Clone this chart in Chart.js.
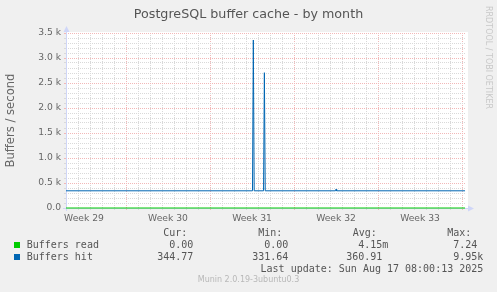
<!DOCTYPE html>
<html>
<head>
<meta charset="utf-8">
<script src="https://cdn.jsdelivr.net/npm/chart.js@4.4.1/dist/chart.umd.min.js"></script>
<style>
html, body { margin: 0; padding: 0; background: #f0f0f0; }
#wrap { position: relative; width: 497px; height: 292px; overflow: hidden; font-family: "DejaVu Sans", sans-serif; color: #666; }
#c { position: absolute; left: 0; top: 0; }
.t { position: absolute; white-space: pre; }
#title { left: 0; width: 497px; top: 5.6px; text-align: center; font-size: 12.7px; line-height: 15px; color: #555; }
#rrd { left: 483px; top: 6px; writing-mode: vertical-rl; font-size: 8px; line-height: 10px; color: #c8c8c8; }
#munin { left: 0; width: 497px; top: 275px; text-align: center; font-size: 8px; line-height: 10px; color: #b8b8b8; }
.m { font-family: "DejaVu Sans Mono", monospace; font-size: 10px; line-height: 12px; color: #555; }
.sq { position: absolute; width: 6px; height: 6px; left: 14px; }
</style>
</head>
<body>
<div id="wrap">
  <canvas id="c" width="497" height="292"></canvas>
  <div id="title" class="t">PostgreSQL buffer cache - by month</div>
  <div id="rrd" class="t">RRDTOOL / TOBI OETIKER</div>
  <div id="legend"></div>
  <div id="munin" class="t">Munin 2.0.19-3ubuntu0.3</div>
</div>
<script>
// x values are days counted from the left edge of the month window
const weekLabels = ['Week 29', 'Week 30', 'Week 31', 'Week 32', 'Week 33'];
const weekStarts = [-2, 5, 12, 19, 26];
const windowDays = 33.33;

const readDays = [0, 33.25];
const readValues = [0, 0];

const hitDays = [0, 15.54, 15.61, 15.68, 16.46, 16.53, 16.6, 22.45, 22.5, 22.55, 33.25];
const hitValues = [344, 344, 3360, 344, 344, 2706, 344, 344, 375, 344, 344];

const statHeaders = ['Cur:', 'Min:', 'Avg:', 'Max:'];
const legendNames = ['Buffers read', 'Buffers hit'];
const curValues = ['0.00', '344.77'];
const minValues = ['0.00', '331.64'];
const avgValues = ['4.15m', '360.91'];
const maxValues = ['7.24', '9.95k'];
const lastUpdate = 'Last update: Sun Aug 17 08:00:13 2025';

const seriesColors = ['#00cc00', '#0066b3'];
const majorGrid = '#f2b8b8';
const minorGrid = '#d9d9d9';

// legend block, munin style
const legend = document.getElementById('legend');
const headerLeft = [163.3, 258.3, 352.7, 447.3];
const colEnd = [199.3, 294.3, 388.3, 483.3];
const addText = (txt, top, opts) => {
    const d = document.createElement('div');
    d.className = 't m';
    d.textContent = txt;
    d.style.top = top + 'px';
    if (opts.left !== undefined) d.style.left = opts.left + 'px';
    if (opts.right !== undefined) d.style.right = (497 - opts.right) + 'px';
    legend.appendChild(d);
};
statHeaders.forEach((h, i) => addText(h, 227, { left: headerLeft[i] }));
legendNames.forEach((name, r) => {
    const top = 239 + r * 12;
    const sq = document.createElement('div');
    sq.className = 'sq';
    sq.style.top = (top + 3) + 'px';
    sq.style.background = seriesColors[r];
    legend.appendChild(sq);
    addText(name, top, { left: 26.7 });
    [curValues, minValues, avgValues, maxValues].forEach((vals, c) => {
        let v = vals[r];
        if (/\d$/.test(v)) v += ' ';
        addText(v, top, { right: colEnd[c] });
    });
});
addText(lastUpdate, 263, { right: 483.3 });

const isMajorDay = d => ((d - 5) % 7 + 7) % 7 === 0;
const xGridColor = c => {
    const v = c.tick.value;
    if (!Number.isInteger(v)) return 'rgba(0,0,0,0)';
    return isMajorDay(v) ? majorGrid : minorGrid;
};
const yGridColor = c => (c.tick.value % 500 === 0 ? majorGrid : minorGrid);

const muninFrame = {
    id: 'muninFrame',
    beforeDraw(chart) {
        const { ctx, chartArea: a } = chart;
        ctx.save();
        ctx.fillStyle = '#f0f0f0';
        ctx.fillRect(0, 0, chart.width, chart.height);
        ctx.fillStyle = '#ffffff';
        ctx.fillRect(a.left, a.top - 1, a.right - a.left + 2, a.bottom - a.top + 1);
        ctx.restore();
    },
    beforeDatasetsDraw(chart) {
        const { ctx, chartArea: a } = chart;
        ctx.save();
        ctx.strokeStyle = '#cfd6f8';
        ctx.fillStyle = '#cfd6f8';
        ctx.lineWidth = 1;
        ctx.beginPath();
        ctx.moveTo(a.left + 0.5, a.bottom + 3);
        ctx.lineTo(a.left + 0.5, a.top - 2);
        ctx.moveTo(a.left - 3, a.bottom + 0.5);
        ctx.lineTo(a.right + 2, a.bottom + 0.5);
        ctx.stroke();
        ctx.beginPath();
        ctx.moveTo(a.left - 2.5, a.top - 1);
        ctx.lineTo(a.left + 3.5, a.top - 1);
        ctx.lineTo(a.left + 0.5, a.top - 7);
        ctx.closePath();
        ctx.fill();
        ctx.beginPath();
        ctx.moveTo(a.right + 2, a.bottom - 2.5);
        ctx.lineTo(a.right + 2, a.bottom + 3.5);
        ctx.lineTo(a.right + 8, a.bottom + 0.5);
        ctx.closePath();
        ctx.fill();
        ctx.restore();
    }
};

Chart.defaults.font.family = '"DejaVu Sans", sans-serif';
Chart.defaults.color = '#666';

new Chart(document.getElementById('c'), {
    type: 'line',
    data: {
        datasets: [
            {
                label: legendNames[0],
                data: readDays.map((d, i) => ({ x: d, y: readValues[i] })),
                borderColor: seriesColors[0],
                borderWidth: 1,
                pointRadius: 0,
                tension: 0,
                clip: false
            },
            {
                label: legendNames[1],
                data: hitDays.map((d, i) => ({ x: d, y: hitValues[i] })),
                borderColor: seriesColors[1],
                borderWidth: 1,
                pointRadius: 0,
                tension: 0,
                clip: false
            }
        ]
    },
    options: {
        responsive: false,
        animation: false,
        layout: { padding: { top: 33, right: 31, bottom: 64, left: 0 } },
        plugins: {
            legend: { display: false },
            tooltip: { enabled: false }
        },
        scales: {
            x: {
                type: 'linear',
                min: 0,
                max: windowDays,
                afterFit(s) { s.height = 20; },
                afterBuildTicks(s) {
                    const vals = [];
                    for (let d = 0; d <= 33; d++) vals.push(d);
                    weekStarts.forEach(w => vals.push(w + 3.5));
                    vals.sort((a, b) => a - b);
                    s.ticks = vals.map(v => ({ value: v }));
                },
                ticks: {
                    autoSkip: false,
                    maxRotation: 0,
                    padding: 3,
                    font: { size: 9.2 },
                    callback(v) {
                        const i = weekStarts.findIndex(w => Math.abs(w + 3.5 - v) < 1e-6);
                        return i >= 0 ? weekLabels[i] : '';
                    }
                },
                grid: { tickLength: 2, color: xGridColor, tickColor: xGridColor },
                border: { display: false, dash: [1, 1] }
            },
            y: {
                min: 0,
                max: 3500,
                afterFit(s) { s.width = 66; },
                ticks: {
                    stepSize: 100,
                    autoSkip: false,
                    padding: 3,
                    font: { size: 9.2 },
                    callback(v) {
                        if (v % 500 !== 0) return '';
                        return v === 0 ? '0.0' : (v / 1000).toFixed(1) + ' k';
                    }
                },
                grid: { tickLength: 2, color: yGridColor, tickColor: yGridColor },
                border: { display: false, dash: [1, 1] },
                title: {
                    display: true,
                    text: 'Buffers / second',
                    color: '#666',
                    font: { size: 11.6 },
                    padding: { top: 4, bottom: 0 }
                }
            }
        }
    },
    plugins: [muninFrame]
});
</script>
</body>
</html>
